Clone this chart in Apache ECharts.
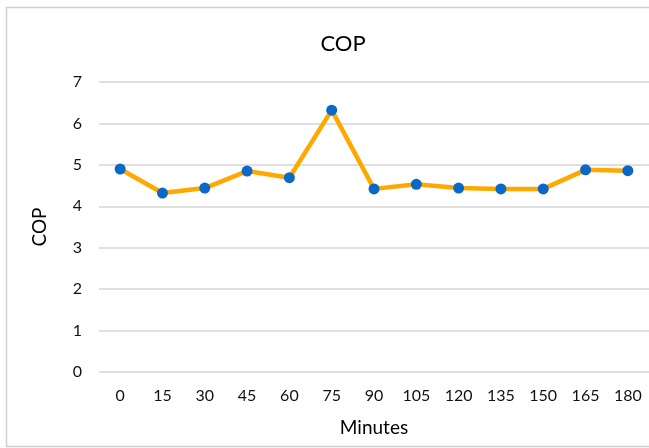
<!DOCTYPE html>
<html>
<head>
<meta charset="utf-8">
<script src="https://cdn.jsdelivr.net/npm/echarts@6/dist/echarts.min.js"></script>
<style>
  html, body { margin: 0; padding: 0; background: #fff; }
  #chart { width: 649px; height: 448px; }
</style>
</head>
<body>
<div id="chart"></div>
<script>
// Coefficient of performance sampled every 15 minutes
const minutes = ['0', '15', '30', '45', '60', '75', '90', '105', '120', '135', '150', '165', '180'];
const copValues = [4.90, 4.32, 4.44, 4.85, 4.69, 6.32, 4.42, 4.53, 4.44, 4.42, 4.42, 4.88, 4.86];
const yTicks = [0, 1, 2, 3, 4, 5, 6, 7];

const font = 'Lato, "Open Sans", sans-serif';
const chart = echarts.init(document.getElementById('chart'), null, { renderer: 'canvas' });

chart.setOption({
  animation: false,
  backgroundColor: '#ffffff',
  graphic: [{
    type: 'rect',
    shape: { x: 6.5, y: 7.5, width: 700, height: 439 },
    style: { fill: 'none', stroke: '#d0d0d0', lineWidth: 1.5 },
    silent: true
  }],
  title: {
    text: 'COP',
    left: 338,
    top: 28,
    textAlign: 'center',
    textStyle: { fontFamily: font, fontSize: 22, fontWeight: 'normal', color: '#000' }
  },
  grid: { left: 99, right: -3, top: 82, bottom: 76 },
  xAxis: {
    type: 'category',
    data: minutes,
    boundaryGap: true,
    name: 'Minutes',
    nameLocation: 'middle',
    nameGap: 46,
    nameTextStyle: { fontFamily: font, fontSize: 19, color: '#000' },
    axisLine: { show: false },
    axisTick: { show: false },
    axisLabel: { fontFamily: font, fontSize: 16, color: '#111', margin: 16 }
  },
  yAxis: {
    type: 'value',
    min: yTicks[0],
    max: yTicks[yTicks.length - 1],
    interval: 1,
    name: 'COP',
    nameLocation: 'middle',
    nameGap: 50,
    nameTextStyle: { fontFamily: font, fontSize: 19, color: '#000' },
    axisLine: { show: false },
    axisTick: { show: false },
    axisLabel: { fontFamily: font, fontSize: 16, color: '#111', margin: 17 },
    splitLine: { lineStyle: { color: '#d4d4d4', width: 1.5 } }
  },
  series: [{
    type: 'line',
    data: copValues,
    symbol: 'circle',
    symbolSize: 11,
    lineStyle: { color: '#FFA800', width: 4.5 },
    itemStyle: { color: '#0a68c8', borderWidth: 0 }
  }]
});
</script>
</body>
</html>
